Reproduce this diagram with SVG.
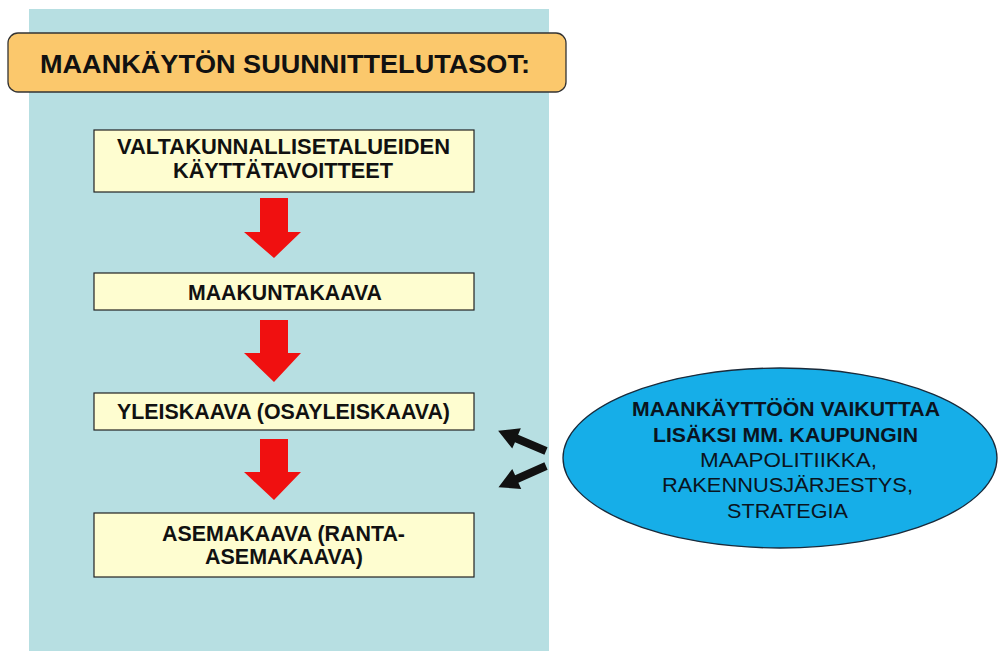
<svg xmlns="http://www.w3.org/2000/svg" width="998" height="651" viewBox="0 0 998 651">
<defs>
<style>
.box{fill:#fefdd0;stroke:#222;stroke-width:1.2}
.t{font-family:"Liberation Sans",Arial,sans-serif;font-weight:bold;font-size:22px;fill:#111;text-anchor:middle}
.e{font-size:19.5px;fill:#0a1420}
.n{font-weight:normal}
.red{fill:#f01010}
.blk{fill:#111}
</style>
</defs>
<rect width="998" height="651" fill="#fff"/>
<rect x="29" y="9" width="520" height="642" fill="#b7dfe2"/>
<g id="title">
<rect x="8" y="33" width="558" height="59" rx="10" fill="#fbc86c" stroke="#333" stroke-width="1.3"/>
<text class="t" x="285" y="73" style="font-size:26px" textLength="490" lengthAdjust="spacingAndGlyphs">MAANKÄYTÖN SUUNNITTELUTASOT:</text>
</g>
<g id="n1">
<rect class="box" x="94" y="130" width="380" height="62"/>
<text class="t" x="283.5" y="154" textLength="333" lengthAdjust="spacingAndGlyphs">VALTAKUNNALLISETALUEIDEN</text>
<text class="t" x="283" y="178" textLength="220" lengthAdjust="spacingAndGlyphs">KÄYTTÄTAVOITTEET</text>
</g>
<g id="n2">
<rect class="box" x="94" y="273" width="380" height="37"/>
<text class="t" x="285" y="300" textLength="194" lengthAdjust="spacingAndGlyphs">MAAKUNTAKAAVA</text>
</g>
<g id="n3">
<rect class="box" x="94" y="393" width="380" height="37"/>
<text class="t" x="283.5" y="419" textLength="333" lengthAdjust="spacingAndGlyphs">YLEISKAAVA (OSAYLEISKAAVA)</text>
</g>
<g id="n4">
<rect class="box" x="94" y="513" width="380" height="64"/>
<text class="t" x="283.5" y="541" textLength="243" lengthAdjust="spacingAndGlyphs">ASEMAKAAVA (RANTA-</text>
<text class="t" x="284" y="564" textLength="158" lengthAdjust="spacingAndGlyphs">ASEMAKAAVA)</text>
</g>
<g id="n5">
<ellipse cx="780" cy="458" rx="217" ry="90" fill="#16aee8" stroke="#1a2a3a" stroke-width="1.3"/>
<text class="t e" x="786" y="416" textLength="308" lengthAdjust="spacingAndGlyphs">MAANKÄYTTÖÖN VAIKUTTAA</text>
<text class="t e" x="785.5" y="442" textLength="265" lengthAdjust="spacingAndGlyphs">LISÄKSI MM. KAUPUNGIN</text>
<text class="t e n" x="788.5" y="467" textLength="177" lengthAdjust="spacingAndGlyphs">MAAPOLITIIKKA,</text>
<text class="t e n" x="787.5" y="492" textLength="251" lengthAdjust="spacingAndGlyphs">RAKENNUSJÄRJESTYS,</text>
<text class="t e n" x="787.5" y="518" textLength="121" lengthAdjust="spacingAndGlyphs">STRATEGIA</text>
</g>
<g id="connectors">
<polygon class="red" points="260,198 288,198 288,232 301,232 274,258 244,232 260,232"/>
<polygon class="red" points="260,320 288,320 288,353 301,353 274,382 244,353 260,353"/>
<polygon class="red" points="260,439 288,439 288,472 301,472 274,500 244,472 260,472"/>
<g transform="translate(546,451) rotate(203)"><polygon class="blk" points="0,-4 32,-4 32,-11 52,0 32,11 32,4 0,4"/></g>
<g transform="translate(546,466) rotate(156)"><polygon class="blk" points="0,-4 32,-4 32,-11 52,0 32,11 32,4 0,4"/></g>
</g>
</svg>
